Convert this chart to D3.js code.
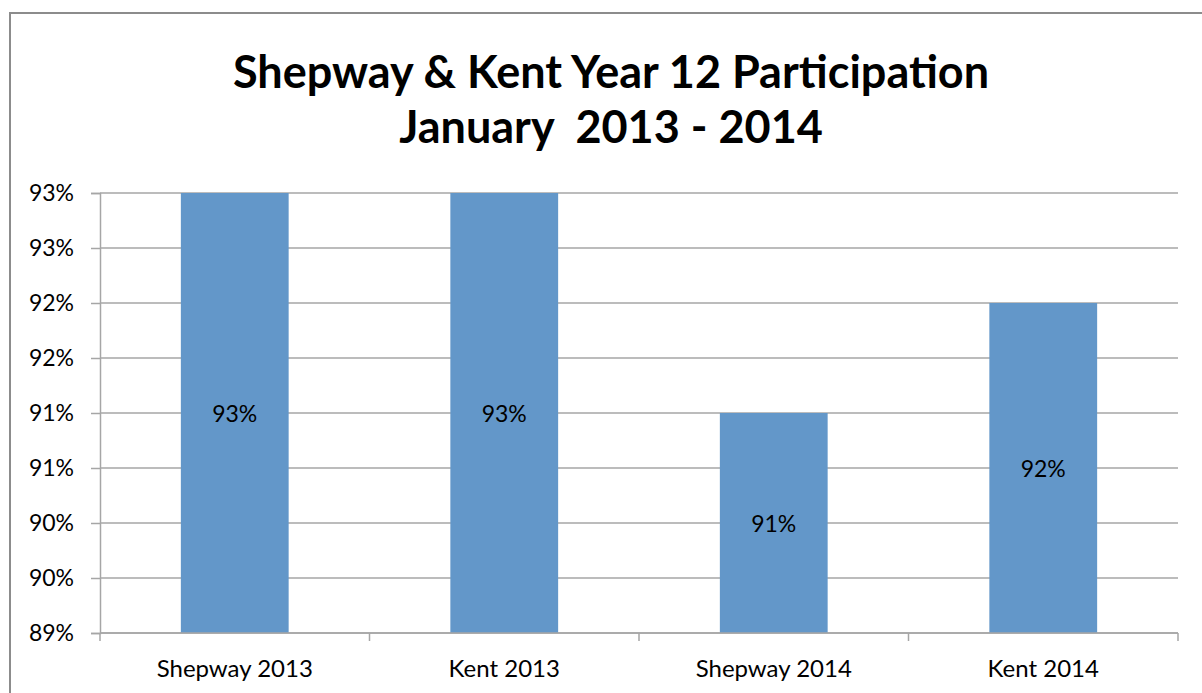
<!DOCTYPE html>
<html>
<head>
<meta charset="utf-8">
<script src="https://cdn.jsdelivr.net/npm/d3@7/dist/d3.min.js"></script>
<style>
  html, body { margin: 0; padding: 0; background: #fff; }
  svg { display: block; }
  text { font-family: Lato, "Open Sans", sans-serif; fill: #000; }
  .title { white-space: pre; }
</style>
</head>
<body>
<svg id="chart" width="1202" height="693"></svg>
<script>
// Year 12 participation rates (%), January figures
const categories = ["Shepway 2013", "Kent 2013", "Shepway 2014", "Kent 2014"];
const participation = [93, 93, 91, 92];
const yTickValues = [89, 89.5, 90, 90.5, 91, 91.5, 92, 92.5, 93];
const titleLines = ["Shepway & Kent Year 12 Participation", "January  2013 - 2014"];

const svg = d3.select("#chart");
const W = 1202, H = 693;
const plot = { left: 100, right: 1178, top: 193, bottom: 633 };
const gridColor = "#a6a6a6";
const barColor = "#6397c9";

// outer chart frame (extends past the right and bottom edges)
svg.append("rect")
  .attr("x", 10).attr("y", 13)
  .attr("width", W + 20).attr("height", H + 20)
  .attr("fill", "#fff")
  .attr("stroke", "#8c8c8c").attr("stroke-width", 2);

// title
svg.append("text")
  .attr("class", "title")
  .attr("x", 611).attr("text-anchor", "middle")
  .attr("font-weight", 700).attr("font-size", 45)
  .selectAll("tspan").data(titleLines).join("tspan")
  .attr("x", 611)
  .attr("y", (d, i) => 88 + i * 55)
  .text(d => d);

const x = d3.scaleBand()
  .domain(categories)
  .range([plot.left, plot.right])
  .paddingInner(0.6).paddingOuter(0.3);

const xTicks = d3.scaleBand().domain(categories).range([plot.left, plot.right]);

const y = d3.scaleLinear().domain([89, 93]).range([plot.bottom, plot.top]);

// horizontal gridlines
svg.append("g")
  .selectAll("line").data(yTickValues).join("line")
  .attr("x1", plot.left).attr("x2", plot.right)
  .attr("y1", d => y(d)).attr("y2", d => y(d))
  .attr("stroke", gridColor).attr("stroke-width", 1.5);

// y axis
const yAxis = svg.append("g")
  .attr("transform", `translate(${plot.left},0)`)
  .call(d3.axisLeft(y).tickValues(yTickValues)
    .tickFormat(d => Math.round(d) + "%")
    .tickSize(9).tickPadding(17));
yAxis.select(".domain").attr("stroke", gridColor).attr("stroke-width", 1.5);
yAxis.selectAll(".tick line").attr("stroke", gridColor).attr("stroke-width", 1.5);
yAxis.selectAll(".tick text")
  .attr("font-family", "Lato, 'Open Sans', sans-serif")
  .attr("font-size", 23).attr("fill", "#000");

// bars
const data = categories.map((c, i) => ({ c, v: participation[i] }));
svg.append("g")
  .selectAll("rect").data(data).join("rect")
  .attr("x", d => x(d.c))
  .attr("width", x.bandwidth())
  .attr("y", d => y(d.v))
  .attr("height", d => y(89) - y(d.v))
  .attr("fill", barColor);

// value labels centred in each bar
svg.append("g")
  .selectAll("text").data(data).join("text")
  .attr("x", d => x(d.c) + x.bandwidth() / 2)
  .attr("y", d => (y(d.v) + y(89)) / 2)
  .attr("text-anchor", "middle")
  .attr("dominant-baseline", "central")
  .attr("font-size", 23)
  .text(d => Math.round(d.v) + "%");

// x axis with category boundary ticks
const xg = svg.append("g").attr("transform", `translate(0,${plot.bottom})`);
xg.append("line")
  .attr("x1", plot.left).attr("x2", plot.right)
  .attr("stroke", gridColor).attr("stroke-width", 1.5);
const boundaries = categories.map(c => xTicks(c)).concat([plot.right]);
xg.selectAll("line.tk").data(boundaries).join("line")
  .attr("class", "tk")
  .attr("x1", d => d).attr("x2", d => d)
  .attr("y1", 0).attr("y2", 8)
  .attr("stroke", gridColor).attr("stroke-width", 1.5);
xg.selectAll("text").data(categories).join("text")
  .attr("x", d => xTicks(d) + xTicks.bandwidth() / 2)
  .attr("y", 44)
  .attr("text-anchor", "middle")
  .attr("font-size", 24)
  .text(d => d);
</script>
</body>
</html>
